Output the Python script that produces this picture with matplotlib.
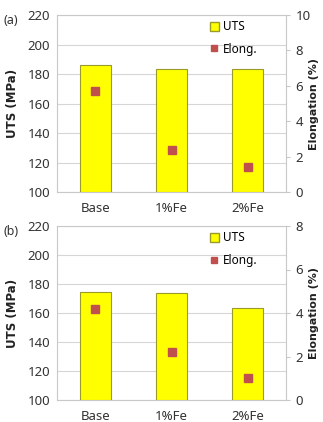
import numpy as np
import matplotlib.pyplot as plt
from matplotlib.patches import Patch
from matplotlib.lines import Line2D

plt.rcParams['font.family'] = ['Noto Sans', 'DejaVu Sans']

categories = ['Base', '1%Fe', '2%Fe']
uts_a = [186, 183.5, 183.5]
elong_a = [5.7, 2.4, 1.4]
uts_b = [174.5, 174, 163.5]
elong_b = [4.2, 2.2, 1.0]

fig = plt.figure(figsize=(3.23, 4.22), dpi=100)
W, H = 323, 422

def panel(rect, uts, elong, emax, tag):
    x0, y0, x1, y1 = rect
    ax = fig.add_axes([x0 / W, 1 - y1 / H, (x1 - x0) / W, (y1 - y0) / H])
    x = np.arange(len(categories))
    ax.bar(x, [u - 100 for u in uts], bottom=100, width=0.41, color='#ffff00',
           edgecolor='#9a9a2a', linewidth=0.8, zorder=3)
    ax.set_ylim(100, 220)
    ax.set_yticks(range(100, 221, 20))
    ax.set_xlim(-0.5, 2.5)
    ax.set_xticks(x)
    ax.set_xticklabels(categories)
    ax.yaxis.grid(True, color='#d6d6d6', linewidth=0.8, zorder=0)
    ax.tick_params(axis='both', length=0, labelsize=9.5, colors='#333333')
    ax.tick_params(axis='x', pad=7)
    ax.tick_params(axis='y', pad=5)
    for s in ax.spines.values():
        s.set_color('#c8c8c8')
        s.set_linewidth(0.8)
    ax.set_ylabel('UTS (MPa)', fontsize=8.5, fontweight='bold', family='DejaVu Sans',
                  color='#222222', labelpad=6)

    ax2 = ax.twinx()
    ax2.plot(x, elong, 's', color='#c0504d', markersize=5.5, zorder=5)
    ax2.set_ylim(0, emax)
    ax2.set_yticks(range(0, emax + 1, 2))
    ax2.tick_params(axis='y', direction='out', length=3, labelsize=9.5, colors='#333333',
                    color='#c8c8c8', pad=4)
    for s in ax2.spines.values():
        s.set_visible(False)
    ax2.set_ylabel('Elongation (%)', fontsize=8, fontweight='bold', family='DejaVu Sans',
                   color='#222222')
    ax2.yaxis.set_label_coords((309 - x0) / (x1 - x0), 0.5)

    handles = [Patch(facecolor='#ffff00', edgecolor='#9a9a2a', label='UTS'),
               Line2D([], [], marker='s', color='#c0504d', linestyle='none', markersize=4,
                      label='Elong.')]
    ax2.legend(handles=handles, loc='upper left', bbox_to_anchor=(0.62, 1.03), frameon=False,
               fontsize=8.5, handlelength=0.8, handleheight=0.8, handletextpad=0.3,
               labelspacing=0.8)
    fig.text(3 / W, 1 - (y0 + 5) / H, tag, fontsize=9, color='#333333', va='center')
    return ax

panel((57, 15, 286, 192), uts_a, elong_a, 10, '(a)')
panel((57, 226, 286, 400), uts_b, elong_b, 8, '(b)')

fig.savefig('out.png', dpi=100)
